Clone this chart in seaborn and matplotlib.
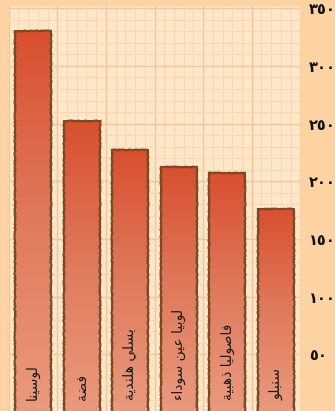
import numpy as np
import pandas as pd
import matplotlib
matplotlib.use("Agg")
import matplotlib.pyplot as plt
from matplotlib.colors import LinearSegmentedColormap
from matplotlib.patches import Rectangle
from matplotlib.ticker import FuncFormatter, FixedLocator
import seaborn as sns

# Crop varieties and their values
varieties = ["لوسينا", "فضة", "بسلي هلندية", "لوبيا عين سوداء", "فاصوليا ذهبية", "سنبلو"]
values = [330, 252, 227, 212, 207, 176]
y_ticks = [0, 50, 100, 150, 200, 250, 300, 350]

# Minimal contextual shaping for Arabic (presentation forms B) so the
# labels render joined and right-to-left.
FORMS = {
    "ء": ("\uFE80", None, None, None),
    "ا": ("\uFE8D", "\uFE8E", None, None),
    "ب": ("\uFE8F", "\uFE90", "\uFE91", "\uFE92"),
    "ة": ("\uFE93", "\uFE94", None, None),
    "ت": ("\uFE95", "\uFE96", "\uFE97", "\uFE98"),
    "ج": ("\uFE9D", "\uFE9E", "\uFE9F", "\uFEA0"),
    "د": ("\uFEA9", "\uFEAA", None, None),
    "ذ": ("\uFEAB", "\uFEAC", None, None),
    "ر": ("\uFEAD", "\uFEAE", None, None),
    "س": ("\uFEB1", "\uFEB2", "\uFEB3", "\uFEB4"),
    "ص": ("\uFEB9", "\uFEBA", "\uFEBB", "\uFEBC"),
    "ض": ("\uFEBD", "\uFEBE", "\uFEBF", "\uFEC0"),
    "ع": ("\uFEC9", "\uFECA", "\uFECB", "\uFECC"),
    "ف": ("\uFED1", "\uFED2", "\uFED3", "\uFED4"),
    "ل": ("\uFEDD", "\uFEDE", "\uFEDF", "\uFEE0"),
    "ن": ("\uFEE5", "\uFEE6", "\uFEE7", "\uFEE8"),
    "ه": ("\uFEE9", "\uFEEA", "\uFEEB", "\uFEEC"),
    "و": ("\uFEED", "\uFEEE", None, None),
    "ي": ("\uFEF1", "\uFEF2", "\uFEF3", "\uFEF4"),
}


def shape_arabic(text):
    out = []
    n = len(text)
    for i, ch in enumerate(text):
        if ch not in FORMS:
            out.append(ch)
            continue
        iso, fin, ini, med = FORMS[ch]
        prev = text[i - 1] if i > 0 else None
        nxt = text[i + 1] if i < n - 1 else None
        join_prev = (prev in FORMS and FORMS[prev][2] is not None and fin is not None)
        join_next = (nxt in FORMS and FORMS[nxt][1] is not None and ini is not None)
        if join_prev and join_next:
            out.append(med)
        elif join_prev:
            out.append(fin)
        elif join_next:
            out.append(ini)
        else:
            out.append(iso)
    return "".join(out)[::-1]


def arabic_digits(v, pos=None):
    return str(int(round(v))).translate(str.maketrans("0123456789", "٠١٢٣٤٥٦٧٨٩"))


df = pd.DataFrame({"variety": varieties, "value": values})

sns.set_theme(style="white")
plt.rcParams["font.family"] = ["DejaVu Sans"]

fig = plt.figure(figsize=(3.35, 4.11), dpi=100, facecolor="#FDD3A3")
ax = fig.add_axes([0.026, -0.0025, 0.8705, 0.988])
ax.set_facecolor("#FEE6C8")

edge = "#7A4A27"
sns.barplot(data=df, x="variety", y="value", color="#DE7356", width=0.74,
            edgecolor=edge, linewidth=1.4, ax=ax, zorder=2)

n = len(varieties)
ax.set_xlim(-0.5, n - 0.5)
ax.set_ylim(0, 352)

# Graph-paper grid
for xv in np.arange(-0.5, n - 0.5 + 1e-9, 0.2):
    major = abs((xv + 0.5) - round(xv + 0.5)) < 1e-6
    ax.axvline(xv, color="#F7C49A" if major else "#FAD5B2",
               lw=1.0 if major else 0.7, zorder=0.5)
for yv in np.arange(0, 352, 10):
    major = yv % 50 == 0
    ax.axhline(yv, color="#F7C49A" if major else "#FAD5B2",
               lw=1.0 if major else 0.7, zorder=0.5)

# Watercolour-like gradient inside each bar
cmap = LinearSegmentedColormap.from_list(
    "bar", ["#EA9A7E", "#E07A5D", "#D8502F"])
grad = np.linspace(0, 1, 256).reshape(-1, 1)
for patch in list(ax.patches):
    x0, y0 = patch.get_x(), patch.get_y()
    w, h = patch.get_width(), patch.get_height()
    im = ax.imshow(grad, extent=[x0, x0 + w, y0, y0 + h], origin="lower",
                   cmap=cmap, aspect="auto", zorder=2.5)
    im.set_clip_path(patch)
    outline = Rectangle((x0, y0), w, h, fill=False, edgecolor=edge,
                        linewidth=1.5, zorder=3)
    outline.set_sketch_params(scale=0.5, length=4, randomness=10)
    ax.add_patch(outline)

ax.set_xlim(-0.5, n - 0.5)
ax.set_ylim(0, 352)

# Variety names written vertically inside the bars
for i, (name, val) in enumerate(zip(varieties, values)):
    ax.text(i, 10, shape_arabic(name), rotation=90, ha="center", va="bottom",
            fontsize=10, color="#1A1A1A", zorder=4)

ax.yaxis.tick_right()
ax.yaxis.set_major_locator(FixedLocator(y_ticks))
ax.yaxis.set_major_formatter(FuncFormatter(arabic_digits))
ax.tick_params(axis="y", length=0, pad=6, labelsize=10.5, labelcolor="#111111")
for lab in ax.get_yticklabels():
    lab.set_fontweight("bold")
ax.set_xticks([])
ax.set_xlabel("")
ax.set_ylabel("")
for s in ax.spines.values():
    s.set_visible(False)

fig.savefig("out.png", dpi=100, facecolor=fig.get_facecolor())
